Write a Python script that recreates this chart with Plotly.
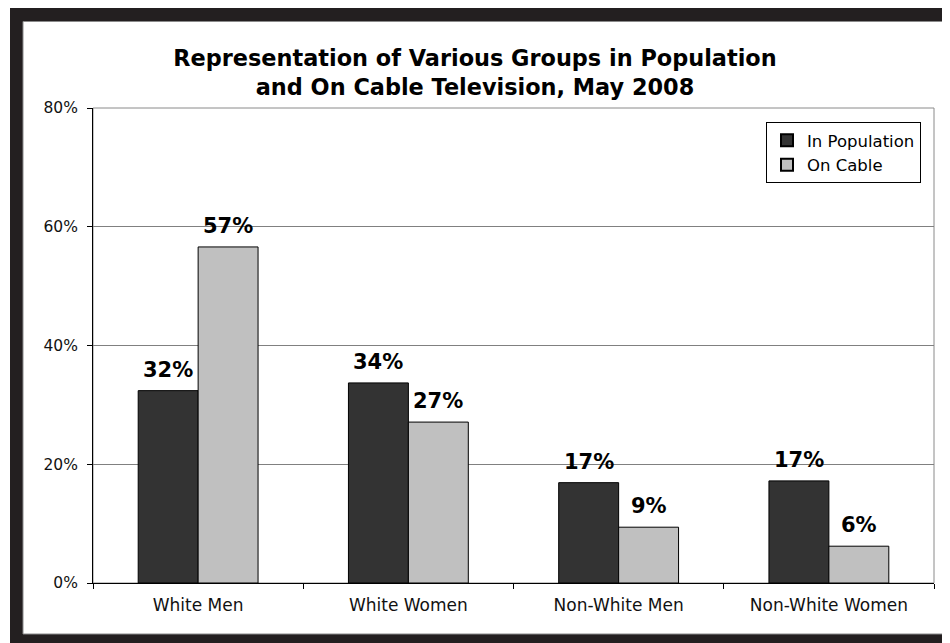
import plotly.graph_objects as go

categories = ["White Men", "White Women", "Non-White Men", "Non-White Women"]
in_population = [32.4, 33.7, 16.9, 17.2]
on_cable = [56.6, 27.1, 9.4, 6.2]
series_names = ["In Population", "On Cable"]
y_ticks = [0, 20, 40, 60, 80]
y_tick_labels = ["0%", "20%", "40%", "60%", "80%"]

OFF = 8  # page body margin in the browser
W_FIG, H_FIG = 950 - OFF, 643 - OFF
# plot area in screen pixels
SX0, SX1, SY0, SY1 = 93, 934, 108, 583
L, T = SX0 - OFF, SY0 - OFF
R, B = W_FIG - (SX1 - OFF), H_FIG - (SY1 - OFF)
PW, PH = SX1 - SX0, SY1 - SY0
BARGAP = 0.43
FONT = "DejaVu Sans"
DARK = "#333333"
LIGHT = "#c0c0c0"
FRAME = "#231f20"


def px_x(p):
    return (p - SX0) / PW


def px_y(p):
    return (SY1 - p) / PH


fig = go.Figure()
for name, vals, col in [(series_names[0], in_population, DARK),
                        (series_names[1], on_cable, LIGHT)]:
    fig.add_trace(go.Bar(
        x=categories, y=vals, name=name,
        marker=dict(color=col, line=dict(color="#000000", width=1)),
    ))

# value labels above bars
bar_w = PW / len(categories) * (1 - BARGAP) / 2
for k, vals in enumerate([in_population, on_cable]):
    shift = (k - 0.5) * bar_w
    for c, v in zip(categories, vals):
        fig.add_annotation(
            x=c, y=v, xref="x", yref="y", text=f"{round(v)}%",
            showarrow=False, xshift=shift, yshift=7, yanchor="bottom",
            font=dict(family=FONT, size=21, color="#000000", weight="bold"),
        )

shapes = [
    # dark outer frame
    dict(type="rect", xref="paper", yref="paper", layer="below",
         x0=px_x(10), x1=px_x(1000), y0=px_y(700), y1=px_y(8),
         fillcolor=FRAME, line=dict(width=0)),
    # inner white panel
    dict(type="rect", xref="paper", yref="paper", layer="below",
         x0=px_x(23), x1=px_x(946.5), y0=px_y(634), y1=px_y(21.5),
         fillcolor="#ffffff", line=dict(color="#8a8a8a", width=1)),
    # plot area border
    dict(type="rect", xref="paper", yref="paper", layer="below",
         x0=0, x1=1, y0=0, y1=1, fillcolor="rgba(0,0,0,0)",
         line=dict(color="#8a8a8a", width=1)),
]

fig.update_layout(
    width=W_FIG, height=H_FIG,
    margin=dict(l=L, r=R, t=T, b=B, pad=0),
    paper_bgcolor="#ffffff", plot_bgcolor="rgba(0,0,0,0)",
    barmode="group", bargap=BARGAP, bargroupgap=0,
    shapes=shapes,
    title=dict(
        text="Representation of Various Groups in Population<br>and On Cable Television, May 2008",
        x=(475 - OFF) / W_FIG, xref="container", xanchor="center",
        y=1 - (66 - OFF) / H_FIG, yref="container", yanchor="middle",
        font=dict(family=FONT, size=22.4, color="#000000", weight="bold"),
    ),
    font=dict(family=FONT, size=17, color="#111111"),
    showlegend=True,
    legend=dict(
        x=px_x(921), y=px_y(122), xanchor="right", yanchor="top",
        bgcolor="#ffffff", bordercolor="#000000", borderwidth=1,
        font=dict(family=FONT, size=16.5, color="#000000"),
        tracegroupgap=0, itemsizing="constant",
    ),
    xaxis=dict(
        type="category", tickson="boundaries", ticks="outside", ticklen=5,
        tickcolor="#000000", showline=True, linecolor="#000000", linewidth=1,
        showgrid=False, ticklabelstandoff=7,
        tickfont=dict(family=FONT, size=17, color="#111111"),
    ),
    yaxis=dict(
        range=[0, 80], tickvals=y_ticks, ticktext=y_tick_labels,
        ticks="outside", ticklen=5, tickcolor="#000000",
        showline=True, linecolor="#000000", linewidth=1,
        showgrid=True, gridcolor="#808080", gridwidth=1, zeroline=False,
        ticklabelstandoff=6,
        tickfont=dict(family=FONT, size=15.5, color="#111111"),
    ),
)

fig.write_html("out.html")
